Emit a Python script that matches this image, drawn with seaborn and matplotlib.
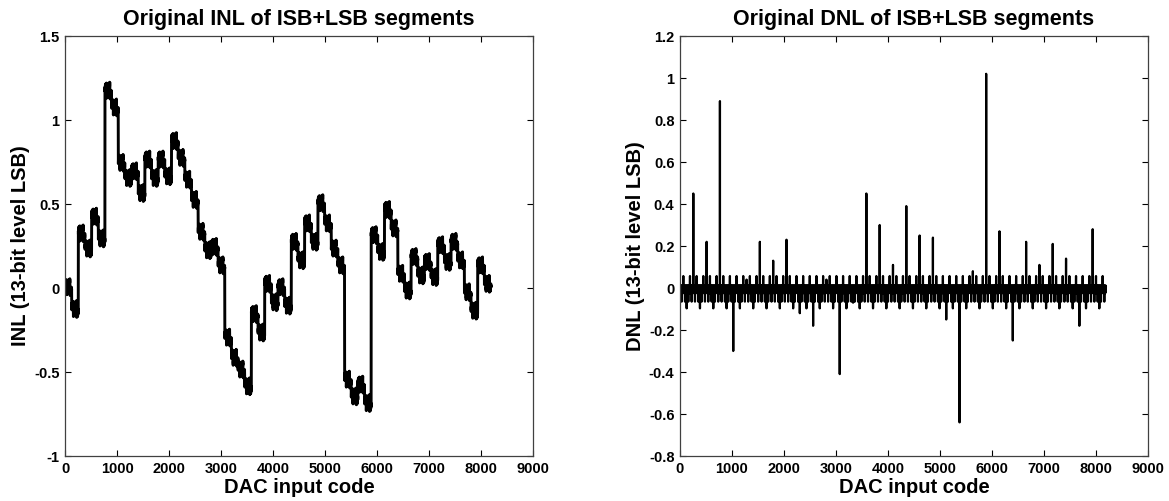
import numpy as np
import pandas as pd
import matplotlib
matplotlib.use("Agg")
import matplotlib.pyplot as plt
import seaborn as sns

# ---------------- data ----------------
n_codes = 8192
seg_len = 128          # ISB segment length (codes)
sub_len = 32           # sub-block length inside a segment

# INL: mean level of each 128-code segment (LSB units)
inl_seg = [0.00, -0.13, 0.32, 0.23, 0.42, 0.29, 1.17, 1.07,
           0.74, 0.65, 0.69, 0.56, 0.76, 0.65, 0.76, 0.66,
           0.87, 0.77, 0.64, 0.52, 0.33, 0.22, 0.24, 0.13,
           -0.30, -0.42, -0.49, -0.59, -0.16, -0.27, 0.02, -0.09,
           0.00, -0.11, 0.27, 0.16, 0.38, 0.27, 0.50, 0.38,
           0.23, 0.13, -0.55, -0.65, -0.58, -0.69, 0.31, 0.21,
           0.46, 0.35, 0.08, -0.02, 0.18, 0.07, 0.15, 0.06,
           0.25, 0.15, 0.27, 0.16, -0.03, -0.14, 0.13, 0.02]
# INL offset of the four 32-code sub-blocks inside a segment
inl_sub = [0.025, -0.015, 0.03, -0.02]
# INL ripple inside a 32-code sub-block
inl_lsb = [-0.02, -0.005, -0.025, -0.01, -0.005, 0.005, -0.015, 0.0,
           0.0, 0.015, -0.005, 0.005, 0.01, 0.02, 0.0, 0.01,
           -0.015, 0.0, -0.02, -0.005, 0.0, 0.01, -0.01, 0.005,
           0.005, 0.015, 0.0, 0.01, 0.015, 0.025, 0.005, 0.015]

# DNL: step at each 256-code boundary (codes 0, 256, ..., 7936)
dnl_msb = [0.00, 0.45, 0.22, 0.89, -0.30, 0.04, 0.22, 0.13,
           0.23, -0.12, -0.18, 0.04, -0.41, -0.07, 0.45, 0.30,
           0.11, 0.39, 0.25, 0.24, -0.15, -0.64, 0.08, 1.02,
           0.27, -0.25, 0.22, 0.11, 0.21, 0.14, -0.18, 0.28]
dnl_half_step = -0.097   # at codes 128 + 256k
dnl_isb_step = 0.057     # at codes 64 + 128k
# DNL pattern inside a 32-code block
dnl_lsb = [-0.065, 0.008, -0.008, 0.008, -0.02, 0.008, -0.008, 0.008,
           0.012, 0.008, -0.008, 0.008, -0.02, 0.008, -0.008, 0.008,
           -0.025, 0.008, -0.008, 0.008, -0.02, 0.008, -0.008, 0.008,
           0.012, 0.008, -0.008, 0.008, -0.02, 0.008, -0.008, 0.008]

x_ticks = [0, 1000, 2000, 3000, 4000, 5000, 6000, 7000, 8000, 9000]
x_ticklabels = ["0", "1000", "2000", "3000", "4000", "5000", "6000", "7000", "8000", "9000"]
inl_yticks = [-1, -0.5, 0, 0.5, 1, 1.5]
inl_yticklabels = ["-1", "-0.5", "0", "0.5", "1", "1.5"]
dnl_yticks = [-0.8, -0.6, -0.4, -0.2, 0, 0.2, 0.4, 0.6, 0.8, 1.0, 1.2]
dnl_yticklabels = ["-0.8", "-0.6", "-0.4", "-0.2", "0", "0.2", "0.4", "0.6", "0.8", "1", "1.2"]

# ---------------- assemble series ----------------
codes = np.arange(n_codes)
inl = (np.repeat(inl_seg, seg_len)
       + np.tile(np.repeat(inl_sub, sub_len), n_codes // seg_len)
       + np.tile(inl_lsb, n_codes // sub_len))
dnl = np.tile(np.array(dnl_lsb, dtype=float), n_codes // sub_len)
dnl[64::128] = dnl_isb_step
dnl[128::256] = dnl_half_step
dnl[0::256] = dnl_msb

df_inl = pd.DataFrame({"code": codes, "inl": inl})
df_dnl = pd.DataFrame({"code": codes, "dnl": dnl})

# ---------------- styling ----------------
sns.set_theme(style="ticks")
plt.rcParams["font.family"] = ["Liberation Sans", "DejaVu Sans"]
plt.rcParams["font.weight"] = "bold"
plt.rcParams["text.color"] = "black"
plt.rcParams["axes.labelcolor"] = "black"
plt.rcParams["xtick.color"] = "black"
plt.rcParams["ytick.color"] = "black"

W, H = 1169, 501
fig = plt.figure(figsize=(W / 100, H / 100), dpi=100)
fig.patch.set_facecolor("white")
ax1 = fig.add_axes([65 / W, 45 / H, 468 / W, 420 / H])
ax2 = fig.add_axes([680 / W, 45 / H, 468 / W, 420 / H])

sns.lineplot(data=df_inl, x="code", y="inl", ax=ax1, color="black",
             linewidth=2.1, estimator=None, sort=False, errorbar=None)
sns.lineplot(data=df_dnl, x="code", y="dnl", ax=ax2, color="black",
             linewidth=1.6, estimator=None, sort=False, errorbar=None)

def style(ax, yticks, yticklabels, ylim, title, ylabel):
    ax.set_xlim(0, 9000)
    ax.set_ylim(*ylim)
    ax.set_xticks(x_ticks)
    ax.set_xticklabels(x_ticklabels, fontsize=10.5, fontweight="bold")
    ax.set_yticks(yticks)
    ax.set_yticklabels(yticklabels, fontsize=10.5, fontweight="bold")
    ax.tick_params(direction="in", length=4, width=0.8, top=True, right=True,
                   colors="black", labelcolor="black", pad=4)
    for s in ax.spines.values():
        s.set_visible(True)
        s.set_color("#404040")
        s.set_linewidth(0.9)
    ax.set_title(title, fontsize=15.5, fontweight="bold", pad=8, color="black")
    ax.set_xlabel("DAC input code", fontsize=14.5, fontweight="bold",
                  labelpad=2, color="black")
    ax.set_ylabel(ylabel, fontsize=14.5, fontweight="bold", labelpad=3,
                  color="black")
    ax.set_facecolor("white")

style(ax1, inl_yticks, inl_yticklabels, (-1, 1.5),
      "Original INL of ISB+LSB segments", "INL (13-bit level LSB)")
style(ax2, dnl_yticks, dnl_yticklabels, (-0.8, 1.2),
      "Original DNL of ISB+LSB segments", "DNL (13-bit level LSB)")

fig.savefig("out.png", dpi=100, facecolor="white")
